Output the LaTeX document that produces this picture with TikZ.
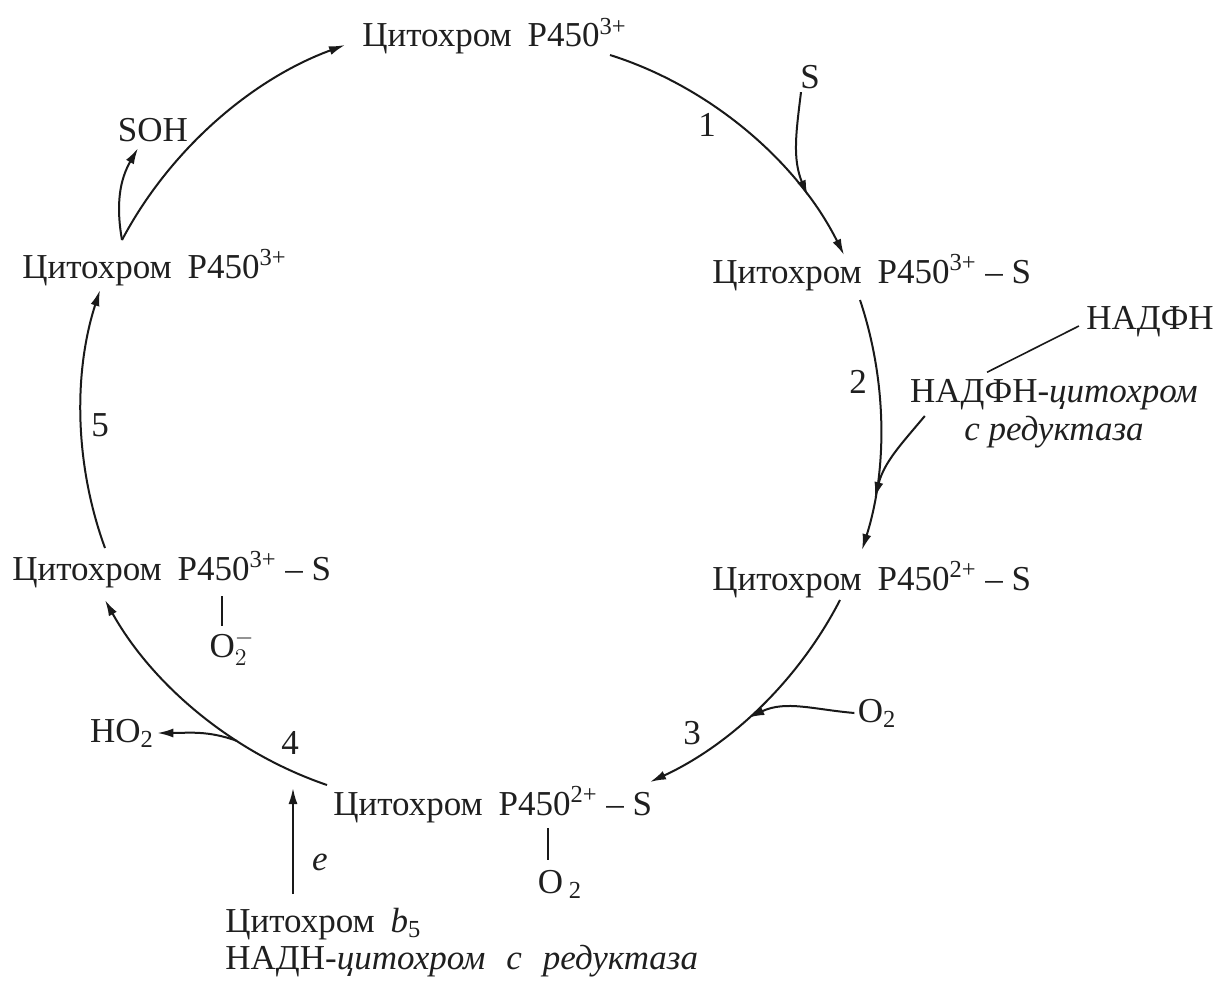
\documentclass[tikz,border=0pt]{standalone}
\usepackage{fontspec}
\setmainfont{Liberation Serif}
\usetikzlibrary{arrows.meta,calc}
\newcommand{\cyt}{Цитохром\hspace{0.45em}P450}
\begin{document}
\begin{tikzpicture}[x=0.5pt,y=0.5pt,
  every node/.style={inner sep=1.5pt, font=\fontsize{17.5pt}{19pt}\selectfont, text=black!88},
  lbl/.style={anchor=base west, inner sep=0pt},
  arr/.style={line width=1pt, draw=black!90, -{Latex[length=8pt,width=4.5pt]}},
  cyc/.style={arr, looseness=0.87},
  ln/.style={line width=0.8pt, draw=black!90}]
\useasboundingbox (0,0) rectangle (1219,982);
% main states
\node[lbl] (n1) at (362,935) {\cyt\textsuperscript{3+}};
\node[lbl] (n2) at (712,699) {\cyt\textsuperscript{3+} – S};
\node[lbl] (n3) at (712,392) {\cyt\textsuperscript{2+} – S};
\node[lbl] (n4) at (333,167) {\cyt\textsuperscript{2+} – S};
\node[lbl] (n5) at (12,402) {\cyt\textsuperscript{3+} – S};
\node[lbl] (n6) at (22,704) {\cyt\textsuperscript{3+}};
% side species
\node (s) at (810,905) {S};
\node (soh) at (153,852) {SOH};
\node (nadph) at (1150,660) {НАДФН};
\node[align=center] (red) at (1054,568) {НАДФН-\textit{цитохром}\\\textit{с редуктаза}};
\node (o2r) at (877,269) {O\textsubscript{2}};
\node (ho2) at (122,249) {HO\textsubscript{2}};
\node (o2b) at (560,98) {O\,\textsubscript{2}};
\node (o2m) at (232,334) {O$_2^-$};
\node[lbl] (b5) at (225,50) {Цитохром\hspace{0.45em}\textit{b}\textsubscript{5}};
\node[lbl] (nadh) at (225,13) {НАДН-\textit{цитохром\hspace{0.6em}с\hspace{0.6em}редуктаза}};
% step numbers
\node (k1) at (707,857) {1};
\node (k2) at (858,600) {2};
\node (k3) at (692,249) {3};
\node (k4) at (290,239) {4};
\node (k5) at (100,557) {5};
\node (e) at (320,120) {\textit{e}};
% cycle arcs
\draw[cyc] ([shift={(100,38)}]n6.base west) to[bend left=21] ([shift={(-17,2)}]n1.base west);
\draw[arr] ([shift={(100,38)}]n6.base west) to[out=100,in=-120] ([shift={(-15,-3)}]soh.south);
\draw[cyc] ([shift={(248,-8)}]n1.base west) to[bend left=23] coordinate[pos=0.78] (j1) ([shift={(132,28)}]n2.base west);
\draw[arr] ([shift={(-9,0)}]s.south) to[out=-97,in=112] (j1);
\draw[cyc] ([shift={(148,-17)}]n2.base west) to[bend left=18] coordinate[pos=0.79] (j2) ([shift={(150,40)}]n3.base west);
\draw[arr] ([shift={(18,-2)}]red.west) to[out=-130,in=75] (j2);
\draw[ln] ([shift={(-4,-4)}]nadph.west) -- ([shift={(-67,4)}]red.north);
\draw[cyc] ([shift={(128,-10)}]n3.base west) to[bend left=19] coordinate[pos=0.56] (j3) ([shift={(317,33)}]n4.base west);
\draw[arr] (o2r.west) to[out=175,in=25] (j3);
\draw[cyc] ([shift={(-6,30)}]n4.base west) to[bend left=21] coordinate[pos=0.34] (j4) ([shift={(93,-20)}]n5.base west);
\draw[arr] (j4) to[out=160,in=0] (ho2.east);
\draw[arr] ([shift={(68,38)}]b5.base west) -- ([shift={(-40,27)}]n4.base west);
\draw[cyc] ([shift={(93,32)}]n5.base west) to[bend left=19] ([shift={(78,-12)}]n6.base west);
% bonds
\draw[ln] ([shift={(215,-13)}]n4.base west) -- ([shift={(-12,6)}]o2b.north);
\draw[ln] ([shift={(210,-16)}]n5.base west) -- ([shift={(210,-46)}]n5.base west);
\end{tikzpicture}
\end{document}
